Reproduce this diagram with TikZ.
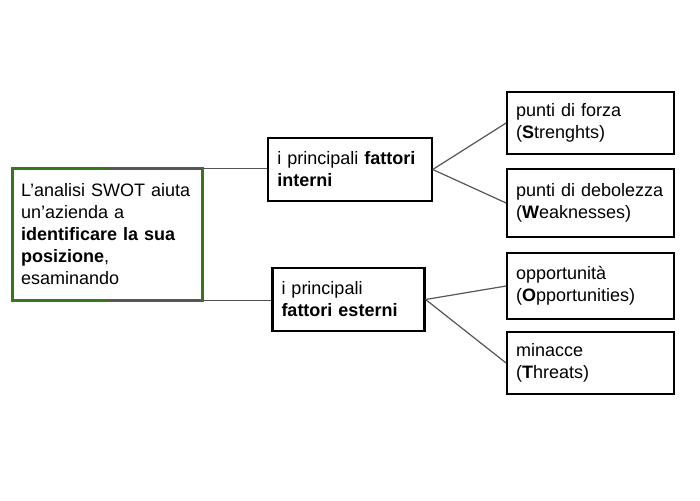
\documentclass[tikz,border=0pt]{standalone}
\usepackage{fontspec}
\setmainfont{Liberation Sans}
\tikzset{
  box/.style={draw=black, line width=1.6pt, align=left, inner xsep=6.75pt, inner ysep=0pt,
    font=\fontsize{13.5}{16.5}\selectfont},
  link/.style={draw={rgb, 255:red, 85; green, 85; blue, 85}, line width=0.9pt}
}
\begin{document}
\begin{tikzpicture}[x=0.75pt,y=0.75pt,yscale=-1,xscale=1]
\useasboundingbox (0,0) rectangle (700,500);

%Shape: Rectangle [id:swot]
\node[box, draw={rgb, 255:red, 56; green, 118; blue, 29}, line width=2.25pt, outer sep=0pt, text width=129.5pt, minimum height=99pt] (swot) at (107.5,234.5)
  {L’analisi SWOT aiuta\\un’azienda a\\\textbf{identificare la sua}\\\textbf{posizione},\\esaminando};
%Shape: Rectangle [id:interni]
\node[box, text width=109pt, minimum height=47.25pt] (interni) at (350,169.5)
  {i principali \textbf{fattori}\\\textbf{interni}};
%Shape: Rectangle [id:esterni]
\node[box, text width=100.5pt, minimum height=47.25pt] (esterni) at (348.5,299.5)
  {i principali\\\textbf{fattori esterni}};

%Shape: Rectangle [id:forza]
\node[box, text width=111.5pt, minimum height=46.5pt] (forza) at (590.5,123)
  {punti di forza\\(\textbf{S}trenghts)};
%Shape: Rectangle [id:debolezza]
\node[box, text width=111.5pt, minimum height=51pt] (debolezza) at (590.5,203)
  {punti di debolezza\\(\textbf{W}eaknesses)};
%Shape: Rectangle [id:opportunita]
\node[box, text width=111.5pt, minimum height=49.5pt] (opportunita) at (590.5,286)
  {opportunità\\(\textbf{O}pportunities)};
%Shape: Rectangle [id:minacce]
\node[box, text width=111.5pt, minimum height=46.5pt] (minacce) at (590.5,363)
  {minacce\\(\textbf{T}hreats)};

%Straight Lines
\draw[link] (swot.north) -- (swot.north -| interni.west);
\draw[link] (swot.south) -- (swot.south -| esterni.west);
\draw[link] (interni.east) -- (forza.west);
\draw[link] (interni.east) -- (debolezza.west);
\draw[link] (esterni.east) -- (opportunita.west);
\draw[link] (esterni.east) -- (minacce.west);

\end{tikzpicture}
\end{document}
